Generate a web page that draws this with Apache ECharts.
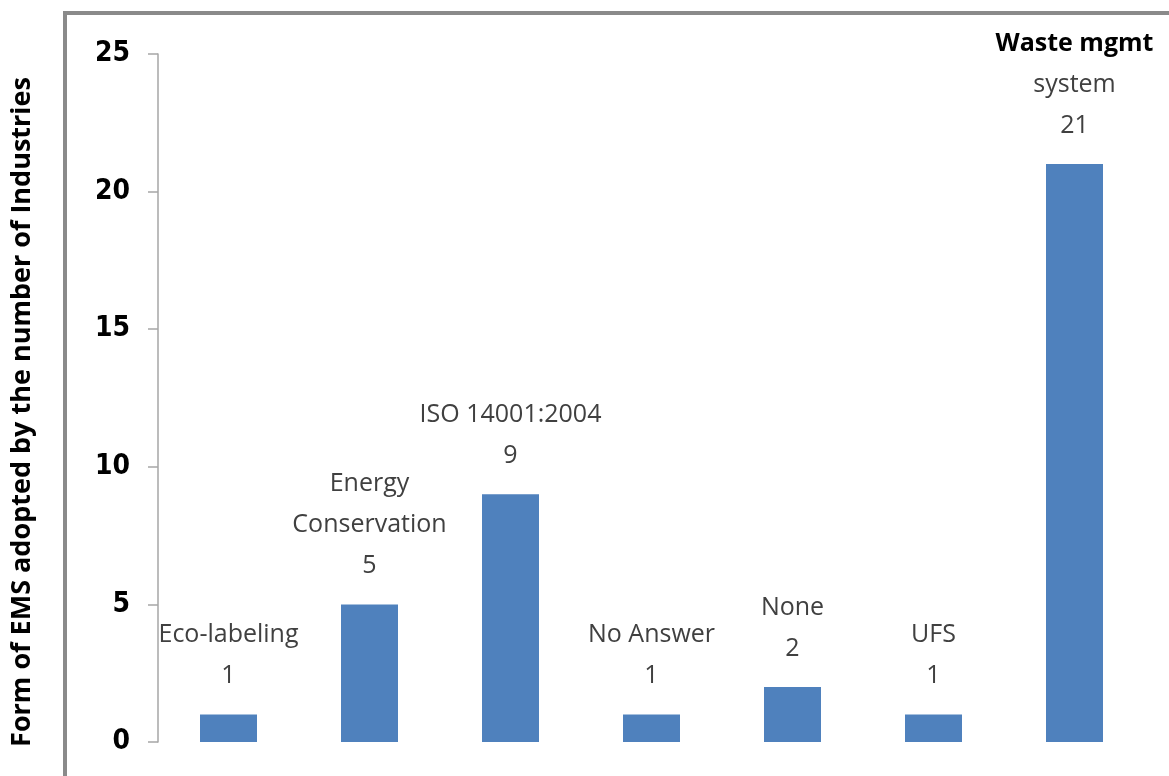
<!DOCTYPE html>
<html>
<head>
<meta charset="utf-8">
<script src="https://cdn.jsdelivr.net/npm/echarts@6/dist/echarts.min.js"></script>
<style>
  html, body { margin: 0; padding: 0; background: #fff; }
  #chart { width: 1169px; height: 776px; }
</style>
</head>
<body>
<div id="chart"></div>
<script>
// Forms of environmental management system and how many industries use each
const categories = ['Eco-labeling', 'Energy\nConservation', 'ISO 14001:2004', 'No Answer', 'None', 'UFS', 'Waste mgmt\nsystem'];
const industryCounts = [1, 5, 9, 1, 2, 1, 21];
const yTicks = { min: 0, max: 25, step: 5 };
const yTitle = 'Form of EMS adopted by the number of Industries';

const chart = echarts.init(document.getElementById('chart'));

const labelFont = '"Open Sans", Lato, sans-serif';

const barData = industryCounts.map((v, i) => {
  const item = { value: v };
  if (categories[i].startsWith('Waste')) {
    item.label = {
      formatter: p => '{h|Waste mgmt}\nsystem\n' + p.value,
      rich: { h: { fontWeight: 'bold', color: '#000', fontSize: 25, fontFamily: labelFont, lineHeight: 41 } }
    };
  }
  return item;
});

chart.setOption({
  animation: false,
  graphic: [
    {
      type: 'rect',
      shape: { x: 65, y: 13, width: 1200, height: 900 },
      style: { fill: 'none', stroke: '#8a8a8a', lineWidth: 4 },
      silent: true,
      z: -1
    },
    {
      // vertical axis title
      type: 'text',
      x: 22,
      y: 412,
      rotation: Math.PI / 2,
      style: {
        text: yTitle,
        fontFamily: '"Open Sans", sans-serif',
        fontWeight: 'bold',
        fontSize: 27,
        fill: '#000',
        align: 'center',
        verticalAlign: 'middle'
      },
      silent: true
    }
  ],
  grid: { left: 158, right: 24, top: 54, bottom: 34 },
  xAxis: {
    type: 'category',
    data: categories,
    axisLine: { show: false },
    axisTick: { show: false },
    axisLabel: { show: false }
  },
  yAxis: {
    type: 'value',
    min: yTicks.min,
    max: yTicks.max,
    interval: yTicks.step,
    axisLine: { show: true, lineStyle: { color: '#a6a6a6', width: 1.5 } },
    axisTick: { show: true, length: 10, lineStyle: { color: '#a6a6a6', width: 1.5 } },
    axisLabel: { fontFamily: '"Liberation Sans Narrow", "DejaVu Sans Condensed", sans-serif', fontWeight: 'bold', fontSize: 28, color: '#000', margin: 28 },
    splitLine: { show: false }
  },
  series: [{
    type: 'bar',
    data: barData,
    barWidth: 57,
    itemStyle: { color: '#4f81bd' },
    label: {
      show: true,
      position: 'top',
      distance: 18,
      formatter: p => p.name + '\n' + p.value,
      fontFamily: labelFont,
      fontSize: 25,
      lineHeight: 41,
      color: '#404040',
      align: 'center'
    }
  }]
});
</script>
</body>
</html>
